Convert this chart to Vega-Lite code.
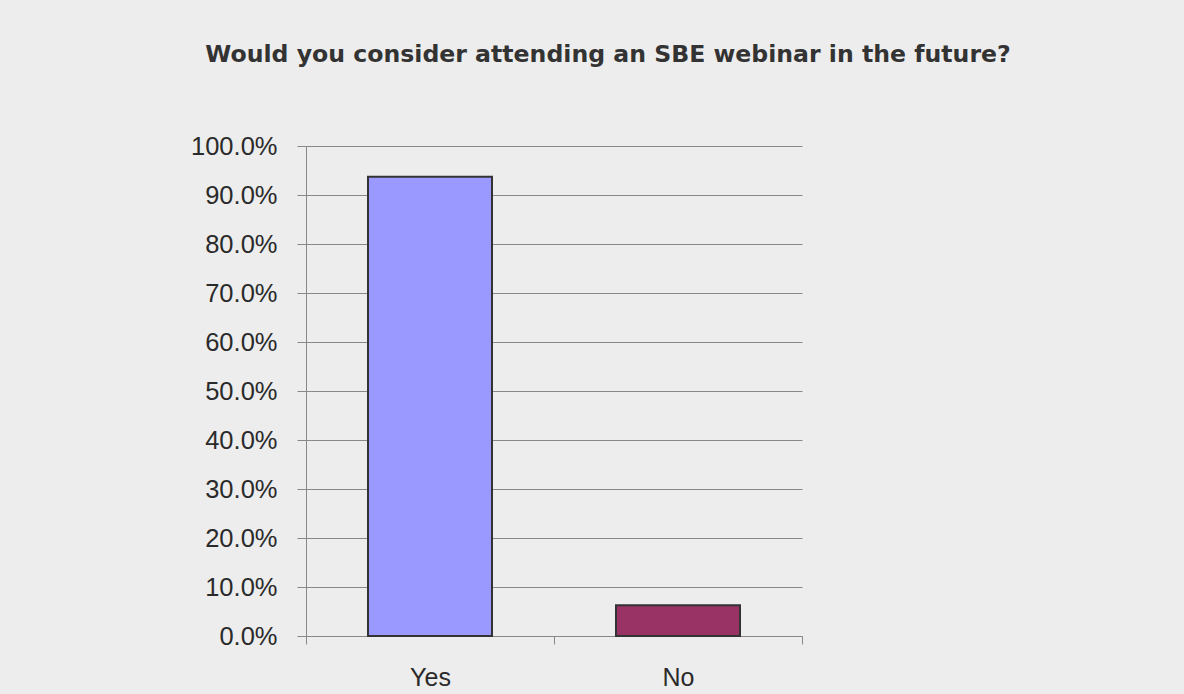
{
  "$schema": "https://vega.github.io/schema/vega-lite/v6.json",
  "autosize": "none",
  "width": 496,
  "height": 490,
  "padding": {"left": 306, "top": 146, "right": 382, "bottom": 58},
  "background": "#ededed",
  "title": {
    "text": "Would you consider attending an SBE webinar in the future?",
    "font": "DejaVu Sans",
    "fontSize": 23.6,
    "fontWeight": "bold",
    "color": "#333333",
    "anchor": "middle",
    "frame": "group",
    "baseline": "alphabetic",
    "offset": 48,
    "dx": 54
  },
  "data": {
    "values": [
      {"answer": "Yes", "share": 0.937},
      {"answer": "No", "share": 0.063}
    ]
  },
  "mark": {"type": "bar", "stroke": "#333333", "strokeWidth": 2, "width": {"band": 0.5}},
  "encoding": {
    "x": {
      "field": "answer",
      "type": "nominal",
      "sort": ["Yes", "No"],
      "scale": {"paddingInner": 0, "paddingOuter": 0},
      "axis": {
        "title": null,
        "labelAngle": 0,
        "tickBand": "extent",
        "tickSize": 8,
        "tickColor": "#888888",
        "domainColor": "#888888",
        "labelFont": "Liberation Sans",
        "labelFontSize": 25,
        "labelColor": "#2a2a2a",
        "labelPadding": 21,
        "grid": false
      }
    },
    "y": {
      "field": "share",
      "type": "quantitative",
      "scale": {"domain": [0, 1]},
      "axis": {
        "title": null,
        "format": ".1%",
        "values": [0, 0.1, 0.2, 0.3, 0.4, 0.5, 0.6, 0.7, 0.8, 0.9, 1.0],
        "tickSize": 9,
        "tickColor": "#888888",
        "domainColor": "#888888",
        "gridColor": "#888888",
        "gridOpacity": 1,
        "labelFont": "Liberation Sans",
        "labelFontSize": 25.5,
        "labelColor": "#2a2a2a",
        "labelPadding": 20
      }
    },
    "color": {
      "field": "answer",
      "type": "nominal",
      "scale": {"domain": ["Yes", "No"], "range": ["#9999ff", "#993366"]},
      "legend": null
    }
  },
  "config": {"view": {"stroke": null}}
}
